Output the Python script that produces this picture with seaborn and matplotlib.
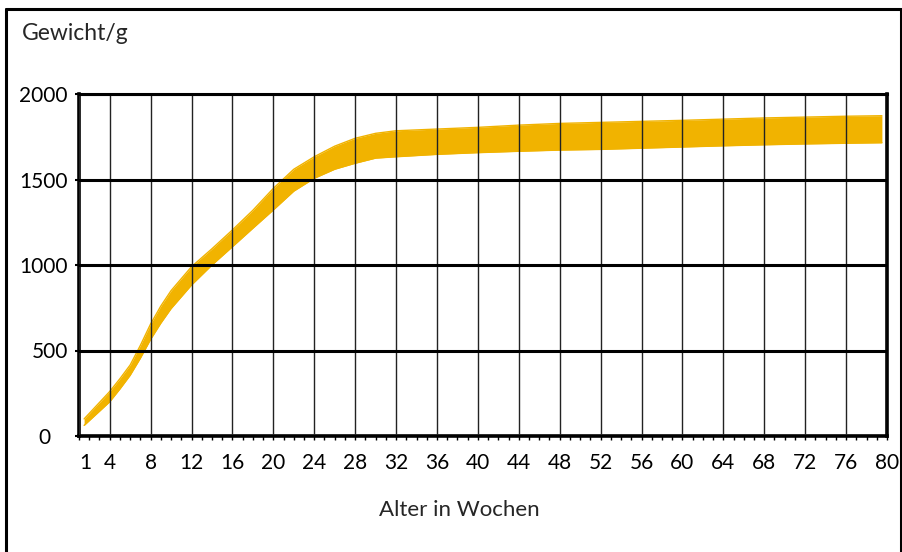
import pandas as pd
import seaborn as sns
import matplotlib.pyplot as plt
from matplotlib.lines import Line2D
from matplotlib.transforms import ScaledTranslation

# Gewichtsband (obere und untere Grenze) nach Alter in Wochen
wochen = [1.5, 4, 5, 6, 7, 8, 9, 10, 12, 14, 16, 18, 20, 22, 24, 26, 28, 30, 32,
          36, 40, 44, 48, 52, 56, 60, 64, 68, 72, 76, 79.5]
oben = [100, 260, 335, 415, 530, 655, 760, 850, 990, 1095, 1205, 1320, 1448,
        1560, 1633, 1695, 1741, 1770, 1785, 1795, 1805, 1818, 1828, 1834,
        1840, 1846, 1853, 1860, 1865, 1870, 1873]
unten = [62, 200, 275, 355, 455, 565, 660, 745, 883, 1000, 1107, 1215, 1322,
         1432, 1507, 1560, 1595, 1625, 1633, 1647, 1657, 1665, 1672, 1676,
         1683, 1690, 1697, 1703, 1708, 1712, 1715]

x_ticks = [1] + list(range(4, 81, 4))
y_ticks = [0, 500, 1000, 1500, 2000]

gelb = '#F1B300'

sns.set_theme(style='white')
plt.rcParams['font.family'] = ['Lato', 'DejaVu Sans']

fig = plt.figure(figsize=(9.03, 5.52), dpi=100)
ax = fig.add_axes([79 / 903, 1 - 436 / 552, (887 - 79) / 903, (436 - 94) / 552])

df = pd.DataFrame({'Woche': wochen, 'oben': oben, 'unten': unten})
ax.fill_between(df['Woche'], df['unten'], df['oben'], color=gelb, lw=0, zorder=1)
sns.lineplot(data=df, x='Woche', y='oben', color=gelb, lw=1, ax=ax, zorder=1)
sns.lineplot(data=df, x='Woche', y='unten', color=gelb, lw=1, ax=ax, zorder=1)

ax.set_xlim(1, 80)
ax.set_ylim(0, 2000)
ax.set_xticks(x_ticks)
ax.set_xticks(range(1, 81), minor=True)
ax.set_yticks(y_ticks)
ax.set_xlabel('')
ax.set_ylabel('')

ax.set_axisbelow(False)
ax.grid(axis='x', which='major', color='#222222', lw=1)
ax.grid(axis='y', which='major', color='black', lw=2.2)

for side in ['left', 'bottom', 'right']:
    ax.spines[side].set_linewidth(2.6)
    ax.spines[side].set_color('black')
ax.spines['top'].set_linewidth(2.2)
ax.spines['top'].set_color('black')

ax.tick_params(axis='x', which='major', direction='out', length=3, width=1,
               pad=9, labelsize=15, colors='black', bottom=True)
ax.tick_params(axis='x', which='minor', direction='out', length=3, width=1,
               colors='black', bottom=True)
ax.tick_params(axis='y', which='major', direction='out', length=3, width=1.5,
               pad=5, labelsize=15, colors='black', left=True)

# "0" der y-Achse steht weiter links, "1" der x-Achse etwas rechts
lab0 = ax.yaxis.get_major_ticks()[0].label1
lab0.set_transform(lab0.get_transform() + ScaledTranslation(-0.17, 0, fig.dpi_scale_trans))
lab1 = ax.xaxis.get_major_ticks()[0].label1
lab1.set_transform(lab1.get_transform() + ScaledTranslation(0.06, 0, fig.dpi_scale_trans))

fig.text(22 / 903, 1 - 34 / 552, 'Gewicht/g', fontsize=16.5, va='center', ha='left')
fig.text(459 / 903, 1 - 510 / 552, 'Alter in Wochen', fontsize=16, va='center', ha='center')

# Rahmen um die Grafik
rahmen = dict(color='black', lw=2.2, transform=fig.transFigure)
fig.add_artist(Line2D([6 / 903, 6 / 903], [0, 1 - 9 / 552], **rahmen))
fig.add_artist(Line2D([6 / 903, 901 / 903], [1 - 9 / 552, 1 - 9 / 552], **rahmen))
fig.add_artist(Line2D([901 / 903, 901 / 903], [0, 1 - 9 / 552], **rahmen))

fig.savefig('out.png', dpi=100)
